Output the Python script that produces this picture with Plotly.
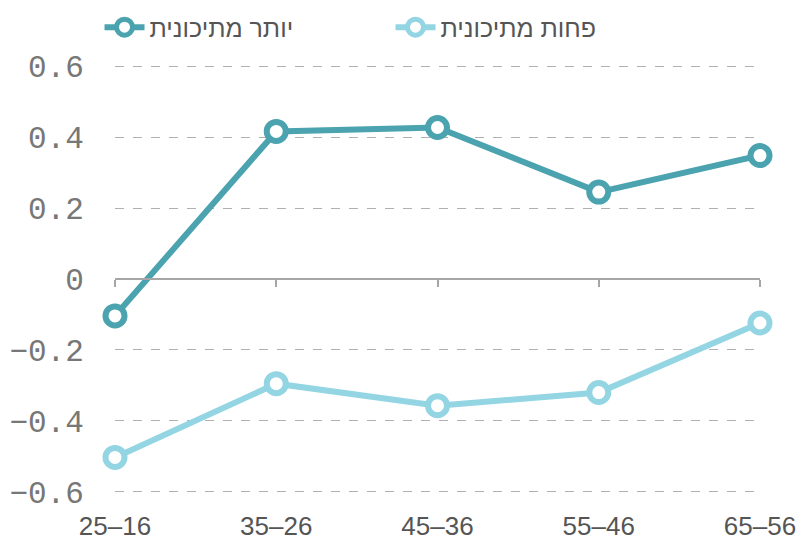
import plotly.graph_objects as go

categories = ["25–16", "35–26", "45–36", "55–46", "65–56"]
series_more = [-0.104, 0.416, 0.427, 0.245, 0.348]
series_less = [-0.503, -0.295, -0.357, -0.32, -0.124]
name_more = "יותר מתיכונית"
name_less = "פחות מתיכונית"
y_ticks = [-0.6, -0.4, -0.2, 0, 0.2, 0.4, 0.6]
y_tick_text = ["−0.6", "−0.4", "−0.2", "0", "0.2", "0.4", "0.6"]

dark = "#4aa3ae"
light = "#93d5e3"

fig = go.Figure()
for name, vals, col in [(name_more, series_more, dark), (name_less, series_less, light)]:
    fig.add_trace(go.Scatter(
        x=categories, y=vals, name=name, mode="lines+markers",
        line=dict(color=col, width=6),
        marker=dict(size=19, color="white", line=dict(color=col, width=6)),
        cliponaxis=False,
    ))

# invisible trace for the zero-line axis with ticks
fig.add_trace(go.Scatter(x=categories, y=[0] * len(categories), xaxis="x2",
                         mode="lines", line=dict(width=0), showlegend=False,
                         hoverinfo="skip"))

fig.update_layout(
    width=791, height=533,
    margin=dict(l=107, r=39, t=56, b=47, autoexpand=False),
    plot_bgcolor="white", paper_bgcolor="white",
    showlegend=True,
    legend=dict(orientation="h", x=-0.024, xanchor="left", y=1.085, yanchor="middle",
                font=dict(family="Liberation Sans, Arial", size=25, color="#555555"),
                entrywidth=236, itemwidth=40, traceorder="normal"),
    xaxis=dict(type="category", range=[0, 4], showgrid=False, zeroline=False,
               showline=False, ticks="outside", ticklen=9, tickcolor="rgba(0,0,0,0)",
               automargin=False,
               tickfont=dict(family="Liberation Sans Narrow, Arial Narrow, Liberation Sans", size=26, color="#555555")),
    xaxis2=dict(type="category", range=[0, 4], overlaying="x", anchor="free", position=0.5,
                side="bottom", showline=True, linecolor="#a6a6a6", linewidth=2,
                ticks="outside", ticklen=7, tickwidth=2, tickcolor="#a6a6a6",
                showticklabels=False, showgrid=False, zeroline=False, automargin=False),
    yaxis=dict(range=[-0.606, 0.606], tickvals=y_ticks, ticktext=y_tick_text,
               showgrid=True, gridcolor="#b0b0b0", griddash="dash", gridwidth=1,
               zeroline=False, showline=False, automargin=False,
               ticks="outside", ticklen=24, tickcolor="rgba(0,0,0,0)",
               tickfont=dict(family="Liberation Mono, Courier New, monospace", size=31, color="#777777")),
)

fig.write_html("out.html")
